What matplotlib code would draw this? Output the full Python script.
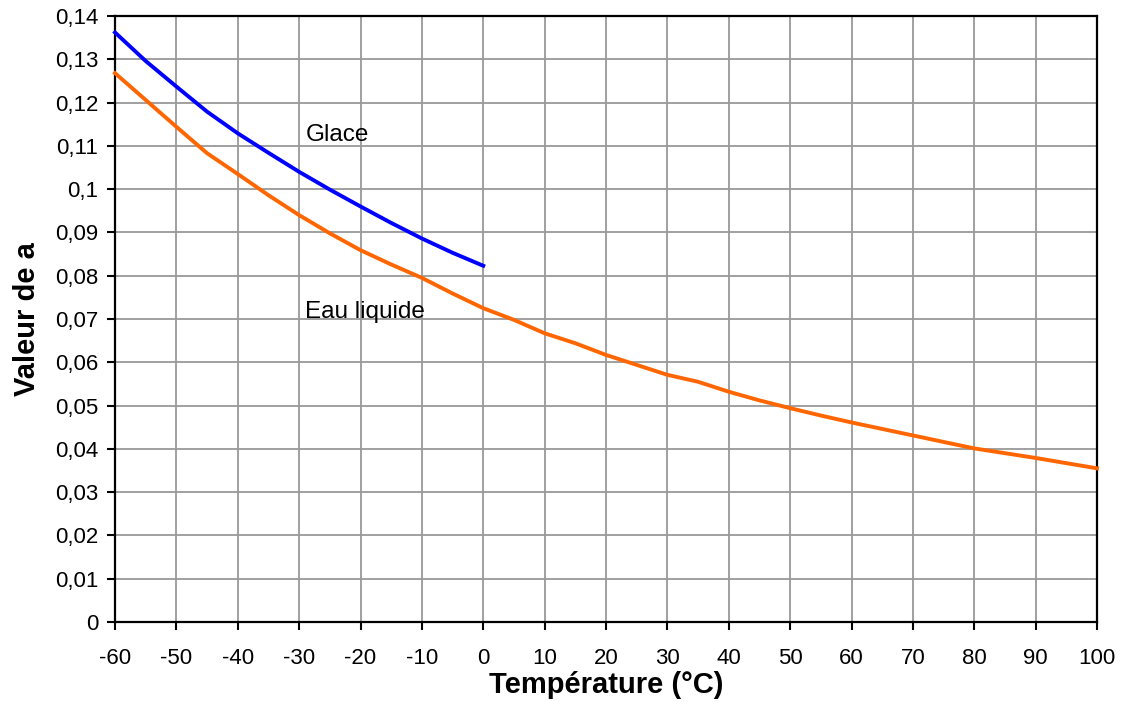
import numpy as np
import matplotlib
matplotlib.use('Agg')
import matplotlib.pyplot as plt

plt.rcParams['font.family'] = ['Liberation Sans', 'DejaVu Sans']
plt.rcParams['axes.unicode_minus'] = False

# Valeurs
tGlace = [-60, -55, -50, -45, -40, -35, -30, -25, -20, -15, -10, -5, 0]
aGlace = [0.1362, 0.1296, 0.1237, 0.1179, 0.1129, 0.1084, 0.1040, 0.0999, 0.0960, 0.0922, 0.0886, 0.0853, 0.0823]

tEau = [-60, -55, -50, -45, -40, -35, -30, -25, -20, -15, -10, -5, 0,
        5, 10, 15, 20, 25, 30, 35, 40, 45, 50, 55, 60, 65, 70, 75, 80, 85, 90, 95, 100]
aEau = [0.1268, 0.1206, 0.1144, 0.1083, 0.1035, 0.0986, 0.0940, 0.0898, 0.0859, 0.0826, 0.0795, 0.0759, 0.0725,
        0.0698, 0.0667, 0.0644, 0.0617, 0.0594, 0.0571, 0.0555, 0.0532, 0.0512, 0.0494, 0.0477, 0.0461,
        0.0446, 0.0431, 0.0416, 0.0401, 0.0390, 0.0379, 0.0367, 0.0355]

xTicks = np.arange(-60, 101, 10)
yTicks = np.arange(0, 0.141, 0.01)
yLabels = ['0' if i == 0 else ('%.2f' % v).rstrip('0').replace('.', ',') for i, v in enumerate(yTicks)]

fig = plt.figure(figsize=(11.25, 7.02), dpi=100)
ax = fig.add_axes([115/1125, 1-622/702, (1097-115)/1125, (622-16)/702])

ax.plot(tEau, aEau, color='#FF6600', lw=2.8, zorder=3, clip_on=False)
ax.plot(tGlace, aGlace, color='#0000FF', lw=2.8, zorder=3, clip_on=False)

ax.set_xlim(-60, 100)
ax.set_ylim(0, 0.14)
ax.set_xticks(xTicks)
ax.set_yticks(yTicks)
ax.set_yticklabels(yLabels)
ax.grid(color='#999999', lw=1.3)
ax.set_axisbelow(True)
for s in ax.spines.values():
    s.set_linewidth(1.6)
    s.set_color('black')
ax.tick_params(labelsize=16, length=6, width=1.5, direction='out')
ax.tick_params(axis='x', pad=13)
ax.tick_params(axis='y', pad=6)

ax.text(-29, 0.1125, 'Glace', fontsize=17.5, va='center')
ax.text(-29, 0.0716, 'Eau liquide', fontsize=17.5, va='center')

ax.set_xlabel('Température (°C)', fontsize=21, fontweight='bold', labelpad=1)
ax.set_ylabel('Valeur de a', fontsize=21, fontweight='bold', labelpad=10)

plt.savefig('out.png', dpi=100)
